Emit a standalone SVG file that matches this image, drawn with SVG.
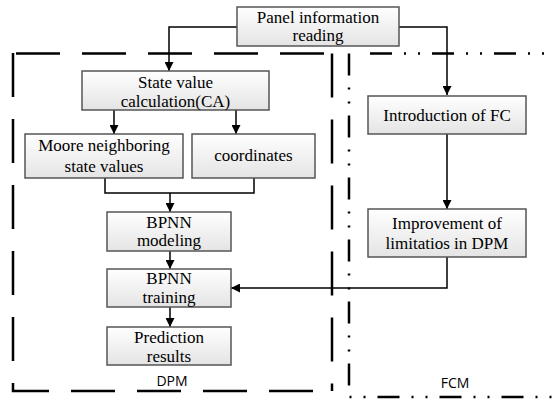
<svg xmlns="http://www.w3.org/2000/svg" width="553" height="400" viewBox="0 0 553 400">
<defs>
<linearGradient id="g" x1="0" y1="0" x2="0" y2="1">
<stop offset="0" stop-color="#ffffff"/>
<stop offset="1" stop-color="#e4e4e4"/>
</linearGradient>
<marker id="ar" viewBox="0 0 10 10" refX="10" refY="5" markerWidth="10" markerHeight="9" markerUnits="userSpaceOnUse" orient="auto">
<path d="M0,0 L10,5 L0,10 Z" fill="#000"/>
</marker>
<style>
.box{fill:url(#g);stroke:#555;stroke-width:1.5}
.t{font-family:"Liberation Serif","Times New Roman",serif;font-size:17px;fill:#000;text-anchor:middle}
.s{font-family:"Open Sans","Liberation Sans",sans-serif;font-size:14px;fill:#000;text-anchor:middle}
.c{fill:none;stroke:#000;stroke-width:1.5}
.ca{fill:none;stroke:#000;stroke-width:1.5;marker-end:url(#ar)}
.dpm{fill:none;stroke:#000;stroke-width:2.5;stroke-dasharray:44 22}
.fcm{fill:none;stroke:#000;stroke-width:2.5;stroke-dasharray:22 12 2 12 2 12}
</style>
</defs>
<rect width="553" height="400" fill="#fff"/>
<g id="regions">
<path class="dpm" d="M16,53.5 H332"/>
<path class="dpm" d="M332,53.5 V391"/>
<path class="dpm" d="M13,53 V391 H332"/>
<path class="fcm" d="M370,53.5 H560"/>
<path class="fcm" d="M349,53.5 V397 H560"/>
<text class="s" x="172" y="386">DPM</text>
<text class="s" x="455" y="388">FCM</text>
</g>
<g id="connectors">
<path class="ca" d="M237,27 H169 V71"/>
<path class="ca" d="M399,27 H447 V95"/>
<path class="ca" d="M114,110 V134"/>
<path class="ca" d="M236,110 V134"/>
<path class="c" d="M105,178 V193 H254 V178"/>
<path class="ca" d="M170,193 V212"/>
<path class="ca" d="M170,251 V269"/>
<path class="ca" d="M170,307 V327"/>
<path class="ca" d="M447,134 V209"/>
<path class="ca" d="M447,257 V288 H231"/>
</g>
<g id="panel"><rect class="box" x="237" y="7" width="162" height="39"/><text class="t" x="318" y="23">Panel information</text><text class="t" x="318" y="41">reading</text></g>
<g id="state"><rect class="box" x="82" y="71" width="187" height="39"/><text class="t" x="175.5" y="88">State value</text><text class="t" x="175.5" y="107">calculation(CA)</text></g>
<g id="moore"><rect class="box" x="25" y="134" width="158" height="44"/><text class="t" x="104" y="151">Moore neighboring</text><text class="t" x="104" y="172">state values</text></g>
<g id="coords"><rect class="box" x="192" y="134" width="123" height="44"/><text class="t" x="253.5" y="161">coordinates</text></g>
<g id="bpnnmodel"><rect class="box" x="107" y="212" width="124" height="39"/><text class="t" x="169" y="228">BPNN</text><text class="t" x="169" y="246">modeling</text></g>
<g id="bpnntrain"><rect class="box" x="107" y="269" width="124" height="38"/><text class="t" x="169" y="284">BPNN</text><text class="t" x="169" y="303">training</text></g>
<g id="predict"><rect class="box" x="107" y="327" width="124" height="38"/><text class="t" x="169" y="343">Prediction</text><text class="t" x="169" y="362">results</text></g>
<g id="introfc"><rect class="box" x="368" y="96" width="158" height="38"/><text class="t" x="447" y="121">Introduction of FC</text></g>
<g id="improve"><rect class="box" x="368" y="209" width="158" height="48"/><text class="t" x="447" y="229">Improvement of</text><text class="t" x="447" y="249">limitatios in DPM</text></g>
</svg>
